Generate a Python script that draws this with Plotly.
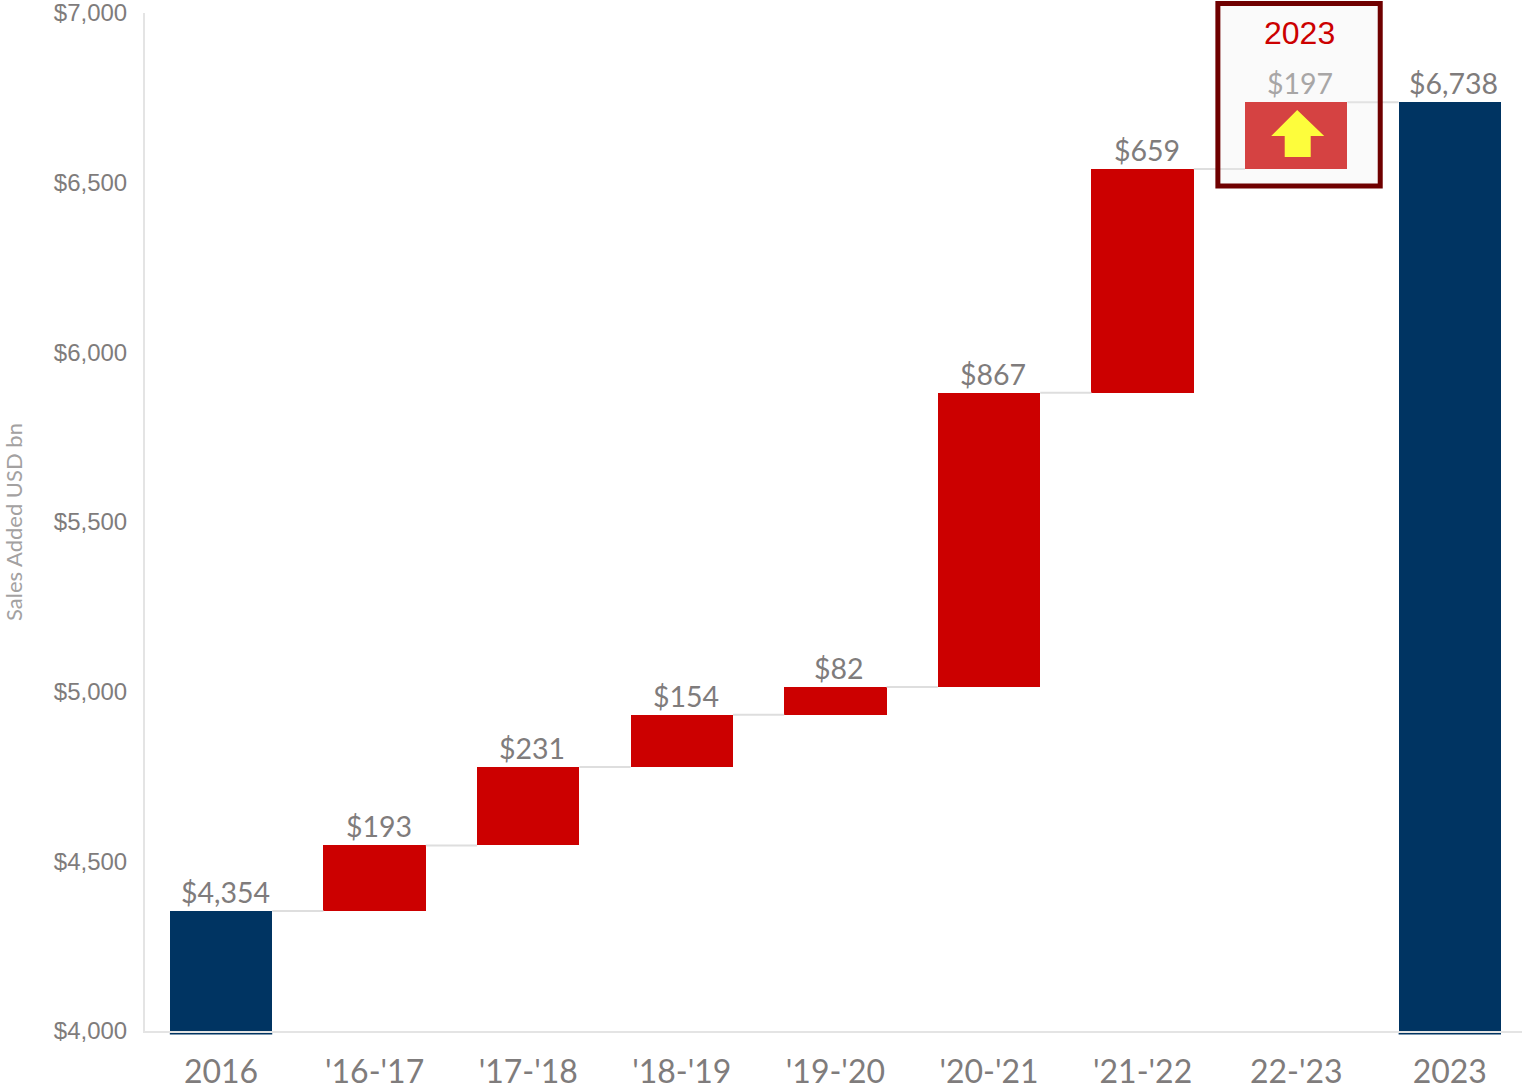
import plotly.graph_objects as go

categories = ["2016", "'16-'17", "'17-'18", "'18-'19", "'19-'20", "'20-'21", "'21-'22", "22-'23", "2023"]
changes = [193, 231, 154, 82, 867, 659, 197]
start_total = 4354
end_total = 6738
value_labels = ["$4,354", "$193", "$231", "$154", "$82", "$867", "$659", "$197", "$6,738"]
y_ticks = [4000, 4500, 5000, 5500, 6000, 6500, 7000]
y_tick_labels = ["$4,000", "$4,500", "$5,000", "$5,500", "$6,000", "$6,500", "$7,000"]

NAVY = "#003462"
RED = "#cc0000"
GREY = "#7f7c7c"
BAR_WIDTH = 2 / 3
AXIS_FLOOR = 4000

positions = list(range(len(categories)))

# Running totals give each step's floor and ceiling.
bases, tops = [], []
level = start_total
for delta in changes:
    bases.append(level)
    level += delta
    tops.append(level)

fig = go.Figure()

# Connectors between neighbouring bars.
levels = [start_total] + tops
for i, lvl in enumerate(levels):
    fig.add_trace(go.Scatter(
        x=[i + BAR_WIDTH / 2, i + 1 - BAR_WIDTH / 2], y=[lvl, lvl], mode="lines",
        line=dict(color="#dedede", width=2), hoverinfo="skip", showlegend=False,
    ))

# Totals at both ends.
fig.add_trace(go.Bar(
    x=[positions[0], positions[-1]],
    y=[start_total - AXIS_FLOOR, end_total - AXIS_FLOOR],
    base=AXIS_FLOOR, width=BAR_WIDTH, marker=dict(color=NAVY, line=dict(width=0)),
    cliponaxis=False, showlegend=False,
))

# Year-over-year increases.
fig.add_trace(go.Bar(
    x=positions[1:-1], y=changes, base=bases, width=BAR_WIDTH,
    marker=dict(color=RED, line=dict(width=0)), cliponaxis=False, showlegend=False,
))

annotations = []
label_tops = [start_total] + tops[:-1] + [end_total] + [end_total]
for i, (text, top) in enumerate(zip(value_labels, label_tops)):
    highlighted = i == 7
    annotations.append(dict(
        x=i, y=top, xref="x", yref="y", text=text, showarrow=False,
        xanchor="center", yanchor="bottom", xshift=4, yshift=0,
        font=dict(family="Lato, sans-serif", size=28.5, color="#a8a6a6" if highlighted else GREY),
    ))
annotations.append(dict(
    x=7, y=6940, xref="x", yref="y", text="2023", showarrow=False,
    xanchor="center", yanchor="middle", xshift=3,
    font=dict(family="Liberation Sans, Arial, sans-serif", size=32, color=RED),
))

shapes = [
    # Highlight panel around the latest step.
    dict(type="rect", xref="x", yref="paper", x0=6.49, x1=7.547, y0=0.8301, y1=1.0093,
         fillcolor="rgba(236,236,236,0.28)", line=dict(color="#6f0000", width=5), layer="above"),
    # Upward arrow on the latest step.
    dict(type="path", xref="x", yref="y", xsizemode="pixel", ysizemode="pixel",
         xanchor=7, yanchor=6540,
         path="M 1 59 L 28 33 L 14.5 33 L 14.5 12 L -11.5 12 L -11.5 33 L -25 33 Z",
         fillcolor="#fdfd3c", line=dict(width=0), layer="above"),
]

# Total bars poke slightly below the axis line.
for pos in (positions[0], positions[-1]):
    shapes.append(dict(
        type="rect", xref="x", yref="paper", x0=pos - BAR_WIDTH / 2, x1=pos + BAR_WIDTH / 2,
        y0=-0.0034, y1=0, fillcolor=NAVY, line=dict(width=0), layer="below",
    ))

fig.update_layout(
    width=1522, height=1091, autosize=False,
    margin=dict(l=145, r=0, t=13, b=60, autoexpand=False),
    paper_bgcolor="white", plot_bgcolor="white",
    showlegend=False, bargap=0,
    annotations=annotations, shapes=shapes,
    xaxis=dict(
        range=[-0.495, 8.47], tickmode="array", tickvals=positions, ticktext=categories,
        showgrid=False, zeroline=False, showline=True, linecolor="#e4e4e4", linewidth=2,
        ticks="", ticklabelstandoff=12, ticklabeloverflow="allow",
        tickfont=dict(family="Lato, sans-serif", size=32, color=GREY),
    ),
    yaxis=dict(
        range=[AXIS_FLOOR, 7000], tickmode="array", tickvals=y_ticks, ticktext=y_tick_labels,
        showgrid=False, zeroline=False, showline=True, linecolor="#e4e4e4", linewidth=2,
        ticks="", ticklabelstandoff=11, ticklabeloverflow="allow",
        tickfont=dict(family="Liberation Sans, Arial, sans-serif", size=24, color=GREY),
        title=dict(text="Sales Added USD bn", standoff=28,
                   font=dict(family="Lato, sans-serif", size=22, color="#a3a1a1")),
    ),
)

fig.write_html("out.html")
